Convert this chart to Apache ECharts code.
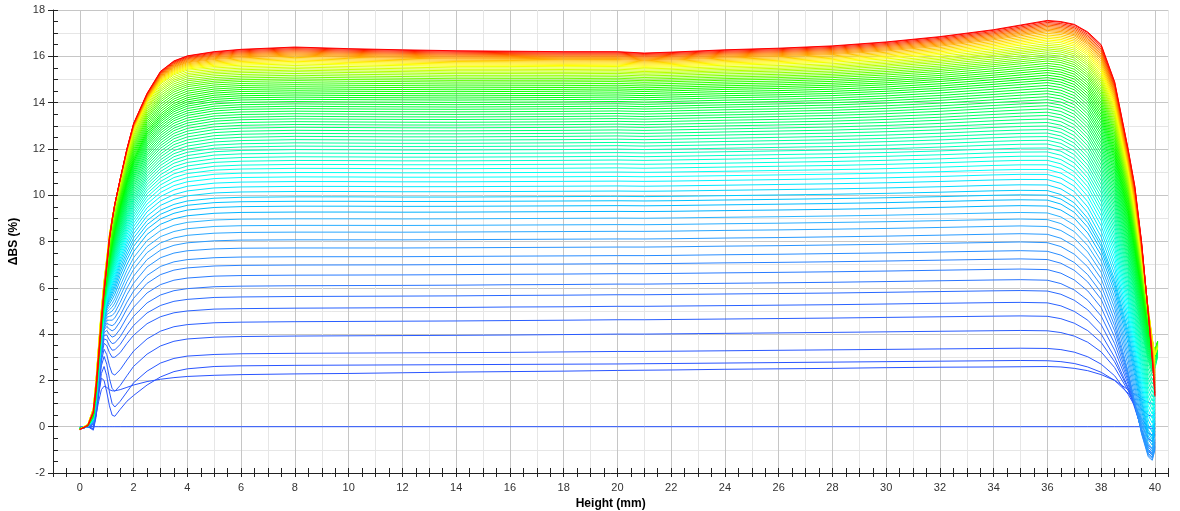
<!DOCTYPE html>
<html><head><meta charset="utf-8">
<script src="https://cdn.jsdelivr.net/npm/echarts@6/dist/echarts.min.js"></script>
<style>html,body{margin:0;padding:0;background:#fff}#c{width:1180px;height:511px}</style>
</head><body><div id="c"></div>
<script>
// Sample heights (mm) shared by all scans
const heightMm = [0,0.3,0.5,0.6,0.7,0.8,0.9,1.0,1.1,1.2,1.3,1.5,1.75,2,2.5,3,3.5,4,5,6,8,10,12,14,16,18,20,21,22,24,26,28,30,32,34,35,36,36.5,37,37.5,38,38.5,39,39.25,39.5,39.75,39.9,40,40.1];
// Reference (first) scan: flat at zero
const baselineScan = [0,0,0,0,0,0,0,0,0,0,0,0,0,0,0,0,0,0,0,0,0,0,0,0,0,0,0,0,0,0,0,0,0,0,0,0,0,0,0,0,0,0,0,0,0,0,0,0,null];
// Profiles at several plateau levels (value at 20 mm)
const refLevels = [2.43, 2.71, 3.25, 5.2, 7.76, 10.0, 12.5, 14.5, 15.5, 16.2];
const ref2_43 = [-0.1,0,0.1,0.5,1.1,1.6,1.75,1.7,1.6,1.55,1.55,1.6,1.7,1.8,1.95,2.05,2.12,2.17,2.22,2.25,2.28,2.3,2.33,2.36,2.38,2.4,2.43,2.44,2.45,2.48,2.5,2.52,2.55,2.57,2.58,2.59,2.6,2.58,2.52,2.42,2.25,2.0,1.6,1.4,1.2,1.05,1.0,0.95,null];
const ref2_71 = [-0.1,0,-0.1,0.5,1.4,2.1,2.0,1.5,0.9,0.5,0.45,0.75,1.1,1.35,1.8,2.15,2.38,2.5,2.6,2.63,2.65,2.66,2.67,2.68,2.69,2.7,2.71,2.72,2.73,2.75,2.77,2.79,2.81,2.83,2.85,2.86,2.85,2.81,2.73,2.58,2.35,2.0,1.45,1.1,0.75,0.5,0.45,0.6,null];
const ref3_25 = [-0.1,0,-0.15,0.4,1.4,2.3,2.6,2.2,1.5,1.0,0.85,1.1,1.5,1.9,2.4,2.75,2.95,3.05,3.12,3.15,3.17,3.18,3.19,3.2,3.21,3.23,3.25,3.25,3.26,3.28,3.3,3.32,3.34,3.36,3.38,3.39,3.38,3.33,3.22,3.02,2.7,2.2,1.4,0.9,0.35,-0.05,-0.1,0.15,null];
const ref5_2 = [-0.1,0,0.1,0.7,1.8,3.0,3.6,3.5,3.2,3.0,3.0,3.2,3.6,3.95,4.45,4.75,4.92,5.0,5.08,5.1,5.12,5.13,5.14,5.15,5.17,5.18,5.2,5.2,5.21,5.23,5.25,5.27,5.3,5.33,5.36,5.37,5.35,5.22,4.98,4.6,4.0,3.0,1.7,0.8,-0.1,-0.8,-0.95,-0.6,null];
const ref7_76 = [-0.05,0,0.2,0.9,2.1,3.4,4.3,4.6,4.6,4.6,4.7,5.1,5.7,6.2,6.9,7.3,7.5,7.6,7.68,7.71,7.72,7.72,7.72,7.73,7.74,7.75,7.76,7.76,7.77,7.8,7.82,7.85,7.88,7.92,7.96,7.98,7.95,7.78,7.45,6.9,6.1,4.6,2.4,1.1,-0.3,-1.3,-1.45,-1.0,null];
const ref10_0 = [-0.05,0.02,0.3,1.1,2.4,3.7,4.7,5.3,5.6,5.9,6.2,6.9,7.6,8.2,8.95,9.4,9.65,9.8,9.92,9.96,9.98,9.98,9.97,9.97,9.98,9.99,10.0,9.99,10.0,10.03,10.06,10.09,10.13,10.18,10.24,10.26,10.25,10.08,9.72,9.05,8.0,6.4,4.2,2.8,1.3,-0.1,-0.4,0.3,null];
const ref12_5 = [-0.06,0.03,0.4,1.3,2.7,4.1,5.2,6.0,6.6,7.1,7.6,8.4,9.3,10.0,11.0,11.6,12.0,12.2,12.38,12.44,12.48,12.47,12.46,12.46,12.47,12.48,12.5,12.48,12.5,12.54,12.58,12.62,12.68,12.76,12.86,12.9,12.92,12.8,12.5,11.9,10.9,9.3,7.0,5.6,4.1,2.8,2.3,2.5,3.0];
const ref14_5 = [-0.08,0.05,0.5,1.6,3.0,4.4,5.6,6.5,7.3,8.0,8.6,9.6,10.7,11.6,12.8,13.5,13.95,14.2,14.4,14.47,14.5,14.48,14.47,14.46,14.47,14.48,14.5,14.47,14.5,14.56,14.6,14.66,14.76,14.9,15.08,15.18,15.28,15.2,15.0,14.5,13.6,12.0,9.5,7.9,6.1,4.3,3.5,3.3,3.7];
const ref15_5 = [-0.1,0.1,0.8,2.0,3.6,5.1,6.3,7.3,8.3,9.0,9.6,10.6,11.8,12.8,14.0,14.8,15.2,15.4,15.5,15.55,15.6,15.56,15.53,15.5,15.5,15.49,15.5,15.46,15.48,15.55,15.6,15.68,15.82,16.0,16.25,16.4,16.55,16.5,16.35,15.95,15.2,13.7,11.0,9.3,7.3,5.1,3.8,3.1,3.4];
const ref16_2 = [-0.12,0.05,0.6,1.6,3.0,4.5,5.8,6.9,8.1,8.9,9.6,10.7,12.0,13.1,14.4,15.35,15.8,16.02,16.2,16.3,16.4,16.33,16.28,16.24,16.22,16.2,16.2,16.14,16.18,16.28,16.35,16.45,16.62,16.85,17.15,17.35,17.55,17.5,17.38,17.05,16.5,14.9,12.0,10.4,8.0,4.9,2.9,1.3,null];
// Plateau level (ΔBS at 20 mm) of each later scan
const plateauLevels = [2.43,2.71,3.25,4.0,4.62,5.2,5.70,6.16,6.61,7.04,7.39,7.76,8.11,8.44,8.73,9.01,9.30,9.55,9.76,9.95,10.18,10.40,10.61,10.81,11.0,11.18,11.35,11.52,11.68,11.84,11.99,12.14,12.28,12.42,12.56,12.69,12.82,12.95,13.07,13.19,13.31,13.42,13.53,13.64,13.75,13.85,13.95,14.05,14.15,14.24,14.33,14.42,14.51,14.59,14.67,14.75,14.83,14.91,14.98,15.05,15.12,15.19,15.26,15.32,15.38,15.44,15.50,15.56,15.61,15.66,15.71,15.76,15.81,15.86,15.90,15.94,15.98,16.02,16.06,16.10,16.14,16.18,16.2];
const xTickLabels = [0,2,4,6,8,10,12,14,16,18,20,22,24,26,28,30,32,34,36,38,40];
const yTickLabels = [-2,0,2,4,6,8,10,12,14,16,18];

const refProfiles = [ref2_43, ref2_71, ref3_25, ref5_2, ref7_76, ref10_0, ref12_5, ref14_5, ref15_5, ref16_2];
const hueStops = [[2.4,228],[5,225],[7,215],[8.5,205],[10,192],[12,162],[13,145],[14.1,128],[14.8,110],[15.3,78],[15.7,55],[16.0,30],[16.2,0]];

function hueFor(L){
  if (L <= hueStops[0][0]) return hueStops[0][1];
  for (let i=1;i<hueStops.length;i++){
    if (L <= hueStops[i][0]){
      const a=hueStops[i-1], b=hueStops[i];
      return a[1] + (b[1]-a[1])*(L-a[0])/(b[0]-a[0]);
    }
  }
  return hueStops[hueStops.length-1][1];
}
function colorFor(L){
  const h = hueFor(L);
  const l = h > 200 ? 58 : 50;
  return 'hsl(' + h.toFixed(0) + ',100%,' + l + '%)';
}
function profileFor(L){
  let k = 1;
  while (k < refLevels.length-1 && refLevels[k] < L) k++;
  const a = refLevels[k-1], b = refLevels[k];
  let w = (L - a)/(b - a); w = Math.max(0, Math.min(1, w));
  const A = refProfiles[k-1], B = refProfiles[k];
  return heightMm.map((x,j) => {
    if (A[j] === null || B[j] === null) return [x, null];
    return [x, L*((1-w)*A[j]/a + w*B[j]/b)];
  });
}

const series = [{
  type:'line', data: heightMm.map((x,j)=>[x, baselineScan[j]]), showSymbol:false, silent:true,
  lineStyle:{width:1, color: colorFor(2.4)}, itemStyle:{color: colorFor(2.4)}
}];
plateauLevels.forEach(L => {
  const c = colorFor(L);
  series.push({type:'line', data: profileFor(L), showSymbol:false, silent:true,
    lineStyle:{width:1, color:c}, itemStyle:{color:c}});
});

const font = 'Arial, "Liberation Sans", sans-serif';
const XMIN=-1, XMAX=40.5, YMIN=-2, YMAX=18;
const chart = echarts.init(document.getElementById('c'), null, {renderer:'canvas'});
chart.setOption({
  animation:false,
  backgroundColor:'#fff',
  grid:{left:53, right:11.6, top:10, bottom:38, containLabel:false, outerBoundsMode:'none'},
  xAxis:[
    {type:'value', min:XMIN, max:XMAX, interval:1, position:'bottom',
     axisLine:{show:true, onZero:false, lineStyle:{color:'#222', width:1}},
     axisTick:{show:false},
     axisLabel:{formatter:v=> xTickLabels.includes(v)? String(v):'', margin:9, color:'#333', fontSize:11, fontFamily:font},
     splitLine:{show:true, lineStyle:{color:['#e6e6e6','#c6c6c6'], width:1}},
     name:'Height (mm)', nameLocation:'middle', nameGap:25,
     nameTextStyle:{fontWeight:'bold', fontSize:12, color:'#000', fontFamily:font}},
    {type:'value', min:XMIN, max:XMAX, interval:0.5, position:'bottom',
     axisLine:{show:false, onZero:false}, axisLabel:{show:false}, splitLine:{show:false},
     axisTick:{show:true, inside:true, length:5, lineStyle:{color:'#222'}}},
    {type:'value', min:XMIN, max:XMAX, interval:0.5, position:'bottom',
     axisLine:{show:false, onZero:false}, axisLabel:{show:false}, splitLine:{show:false},
     axisTick:{show:true, inside:false, length:4, lineStyle:{color:'#222'}}}
  ],
  yAxis:[
    {type:'value', min:YMIN, max:YMAX, interval:1, position:'left',
     axisLine:{show:true, onZero:false, lineStyle:{color:'#222', width:1}},
     axisTick:{show:false},
     axisLabel:{formatter:v=> yTickLabels.includes(v)? String(v):'', margin:8, color:'#333', fontSize:11, fontFamily:font},
     splitLine:{show:true, lineStyle:{color:['#c6c6c6','#e6e6e6'], width:1}},
     name:'ΔBS (%)', nameLocation:'middle', nameGap:33, nameRotate:90,
     nameTextStyle:{fontWeight:'bold', fontSize:12, color:'#000', fontFamily:font}},
    {type:'value', min:YMIN, max:YMAX, interval:0.5, position:'left',
     axisLine:{show:false, onZero:false}, axisLabel:{show:false}, splitLine:{show:false},
     axisTick:{show:true, inside:true, length:5, lineStyle:{color:'#222'}}},
    {type:'value', min:YMIN, max:YMAX, interval:2, position:'left',
     axisLine:{show:false, onZero:false}, axisLabel:{show:false}, splitLine:{show:false},
     axisTick:{show:true, inside:false, length:5, lineStyle:{color:'#222'}}}
  ],
  series: series
});
</script>
</body></html>
